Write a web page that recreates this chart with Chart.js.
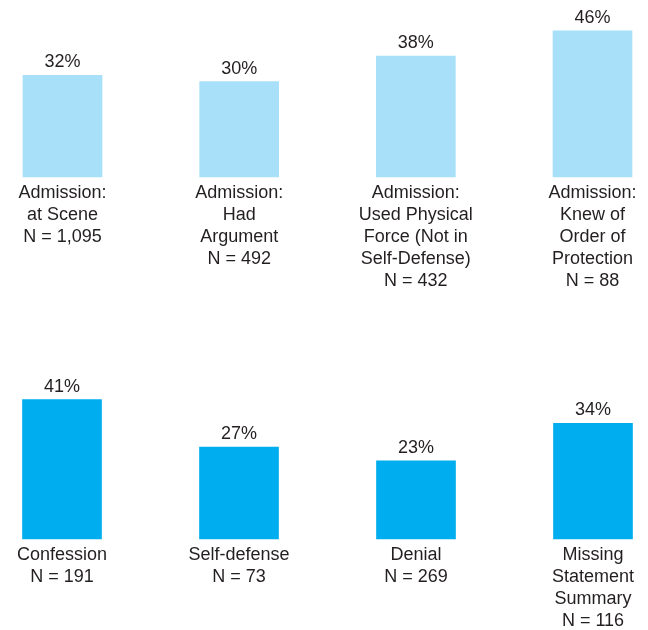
<!DOCTYPE html>
<html>
<head>
<meta charset="utf-8">
<script src="https://cdn.jsdelivr.net/npm/chart.js@4/dist/chart.umd.min.js"></script>
<style>
  body { margin: 0; background: #fff; }
  #wrap { position: relative; width: 648px; height: 630px; }
  #wrap canvas { position: absolute; left: 0; }
  #topChart { top: 0; }
  #bottomChart { top: 320px; }
</style>
</head>
<body>
<div id="wrap">
  <canvas id="topChart" width="648" height="320"></canvas>
  <canvas id="bottomChart" width="648" height="310"></canvas>
</div>
<script>
// data
const topCategories = [
    ['Admission:', 'at Scene', 'N = 1,095'],
    ['Admission:', 'Had', 'Argument', 'N = 492'],
    ['Admission:', 'Used Physical', 'Force (Not in', 'Self-Defense)', 'N = 432'],
    ['Admission:', 'Knew of', 'Order of', 'Protection', 'N = 88']
];
const topValues = [32, 30, 38, 46];

const bottomCategories = [
    ['Confession', 'N = 191'],
    ['Self-defense', 'N = 73'],
    ['Denial', 'N = 269'],
    ['Missing', 'Statement', 'Summary', 'N = 116']
];
const bottomValues = [41, 27, 23, 34];

const textColor = '#231f20';
const fontFamily = "'Liberation Sans', Arial, Helvetica, sans-serif";
const fontSize = 18;

// percent labels above each bar
const valueLabels = {
    id: 'valueLabels',
    afterDatasetsDraw(chart) {
        const ctx = chart.ctx;
        const values = chart.data.datasets[0].data;
        ctx.save();
        ctx.fillStyle = textColor;
        ctx.font = fontSize + 'px ' + fontFamily;
        ctx.textAlign = 'center';
        ctx.textBaseline = 'alphabetic';
        chart.getDatasetMeta(0).data.forEach(function(bar, i) {
            ctx.fillText(values[i] + '%', bar.x, bar.y - 8);
        });
        ctx.restore();
    }
};

function makeChart(id, labels, values, color, pad, axisHeight) {
    return new Chart(document.getElementById(id), {
        type: 'bar',
        data: {
            labels: labels,
            datasets: [{
                data: values,
                backgroundColor: color,
                borderWidth: 0,
                barThickness: 79,
                clip: false
            }]
        },
        options: {
            responsive: false,
            animation: false,
            layout: { padding: pad },
            plugins: {
                legend: { display: false },
                tooltip: { enabled: false }
            },
            scales: {
                x: {
                    offset: false,
                    grid: { display: false, drawTicks: false },
                    border: { display: false },
                    ticks: {
                        color: textColor,
                        padding: 5,
                        maxRotation: 0,
                        autoSkip: false,
                        font: { family: fontFamily, size: fontSize, lineHeight: 22 / fontSize }
                    },
                    afterFit: function(scale) { scale.height = axisHeight; }
                },
                y: {
                    display: false,
                    min: 0,
                    max: 50
                }
            }
        },
        plugins: [valueLabels]
    });
}

makeChart('topChart', topCategories, topValues, '#a8e0f9',
    { top: 18, left: 62.5, right: 55.5, bottom: 0 }, 143);
makeChart('bottomChart', bottomCategories, bottomValues, '#00aeef',
    { top: 49, left: 62, right: 55, bottom: 0 }, 91);
</script>
</body>
</html>
